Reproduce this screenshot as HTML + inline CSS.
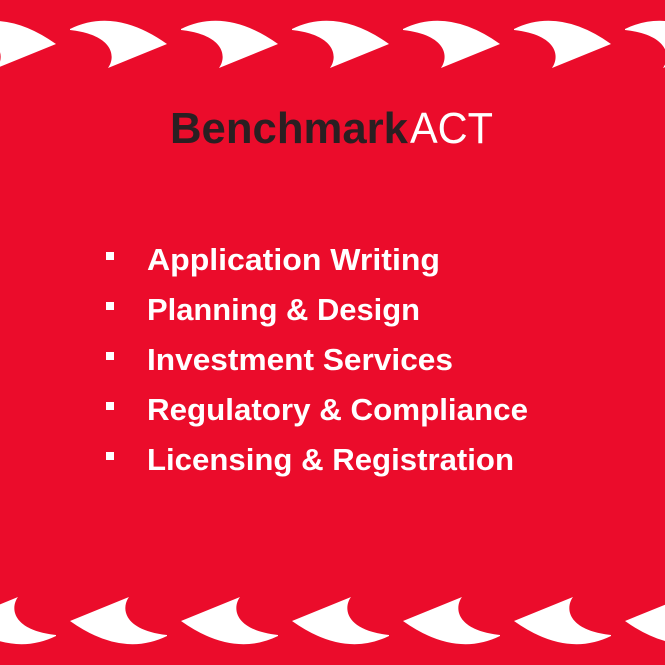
<!DOCTYPE html>
<html><head><meta charset="utf-8"><style>
html,body{margin:0;padding:0;background:#eb0c2b;}
svg{display:block;}
text{font-family:"Liberation Sans",sans-serif;}
</style></head><body>
<svg width="665" height="665" viewBox="0 0 665 665">
<rect width="665" height="665" fill="#eb0c2b"/>
<defs>
<path id="chev" d="M0,0 Q45,-22 97,15 L38,39 C46,28 44,6 0,1 Z" fill="#fff"/>
</defs>
<g id="topG"></g>
<g id="botG"></g>
<text x="170" y="143" font-size="44" font-weight="bold" fill="#2a1f22" textLength="238" lengthAdjust="spacingAndGlyphs">Benchmark</text>
<text x="410" y="143" font-size="44" fill="#ffffff" textLength="83" lengthAdjust="spacingAndGlyphs">ACT</text>
<g id="listG"></g>
</svg>
<script>
const items=["Application Writing","Planning & Design","Investment Services","Regulatory & Compliance","Licensing & Registration"];
const widths=[293,273,306,381,367];
{
const ns="http://www.w3.org/2000/svg";
const topG=document.getElementById('topG'),botG=document.getElementById('botG');
for(let k=-1;k<=5;k++){
  const a=document.createElementNS(ns,'use');
  a.setAttribute('href','#chev');
  a.setAttribute('transform','translate('+(70+111*k)+',29)');
  
  
  topG.appendChild(a);
  const b=document.createElementNS(ns,'use');
  b.setAttribute('href','#chev');
  b.setAttribute('transform','translate('+(167+111*k)+',636) rotate(180)');
  
  
  botG.appendChild(b);
}
const listG=document.getElementById('listG');
items.forEach((t,i)=>{
  const y=270+50*i;
  const r=document.createElementNS(ns,'rect');
  r.setAttribute('x',106);r.setAttribute('y',y-18);r.setAttribute('width',8);r.setAttribute('height',8);r.setAttribute('fill','#fff');
  
  
  listG.appendChild(r);
  const tx=document.createElementNS(ns,'text');
  tx.setAttribute('x',147);tx.setAttribute('y',y);tx.setAttribute('font-size','31');tx.setAttribute('font-weight','bold');tx.setAttribute('fill','#fff');
  tx.setAttribute('textLength',widths[i]);tx.setAttribute('lengthAdjust','spacingAndGlyphs');
  tx.textContent=t;
  
  
  listG.appendChild(tx);
});
}
</script>
</body></html>
